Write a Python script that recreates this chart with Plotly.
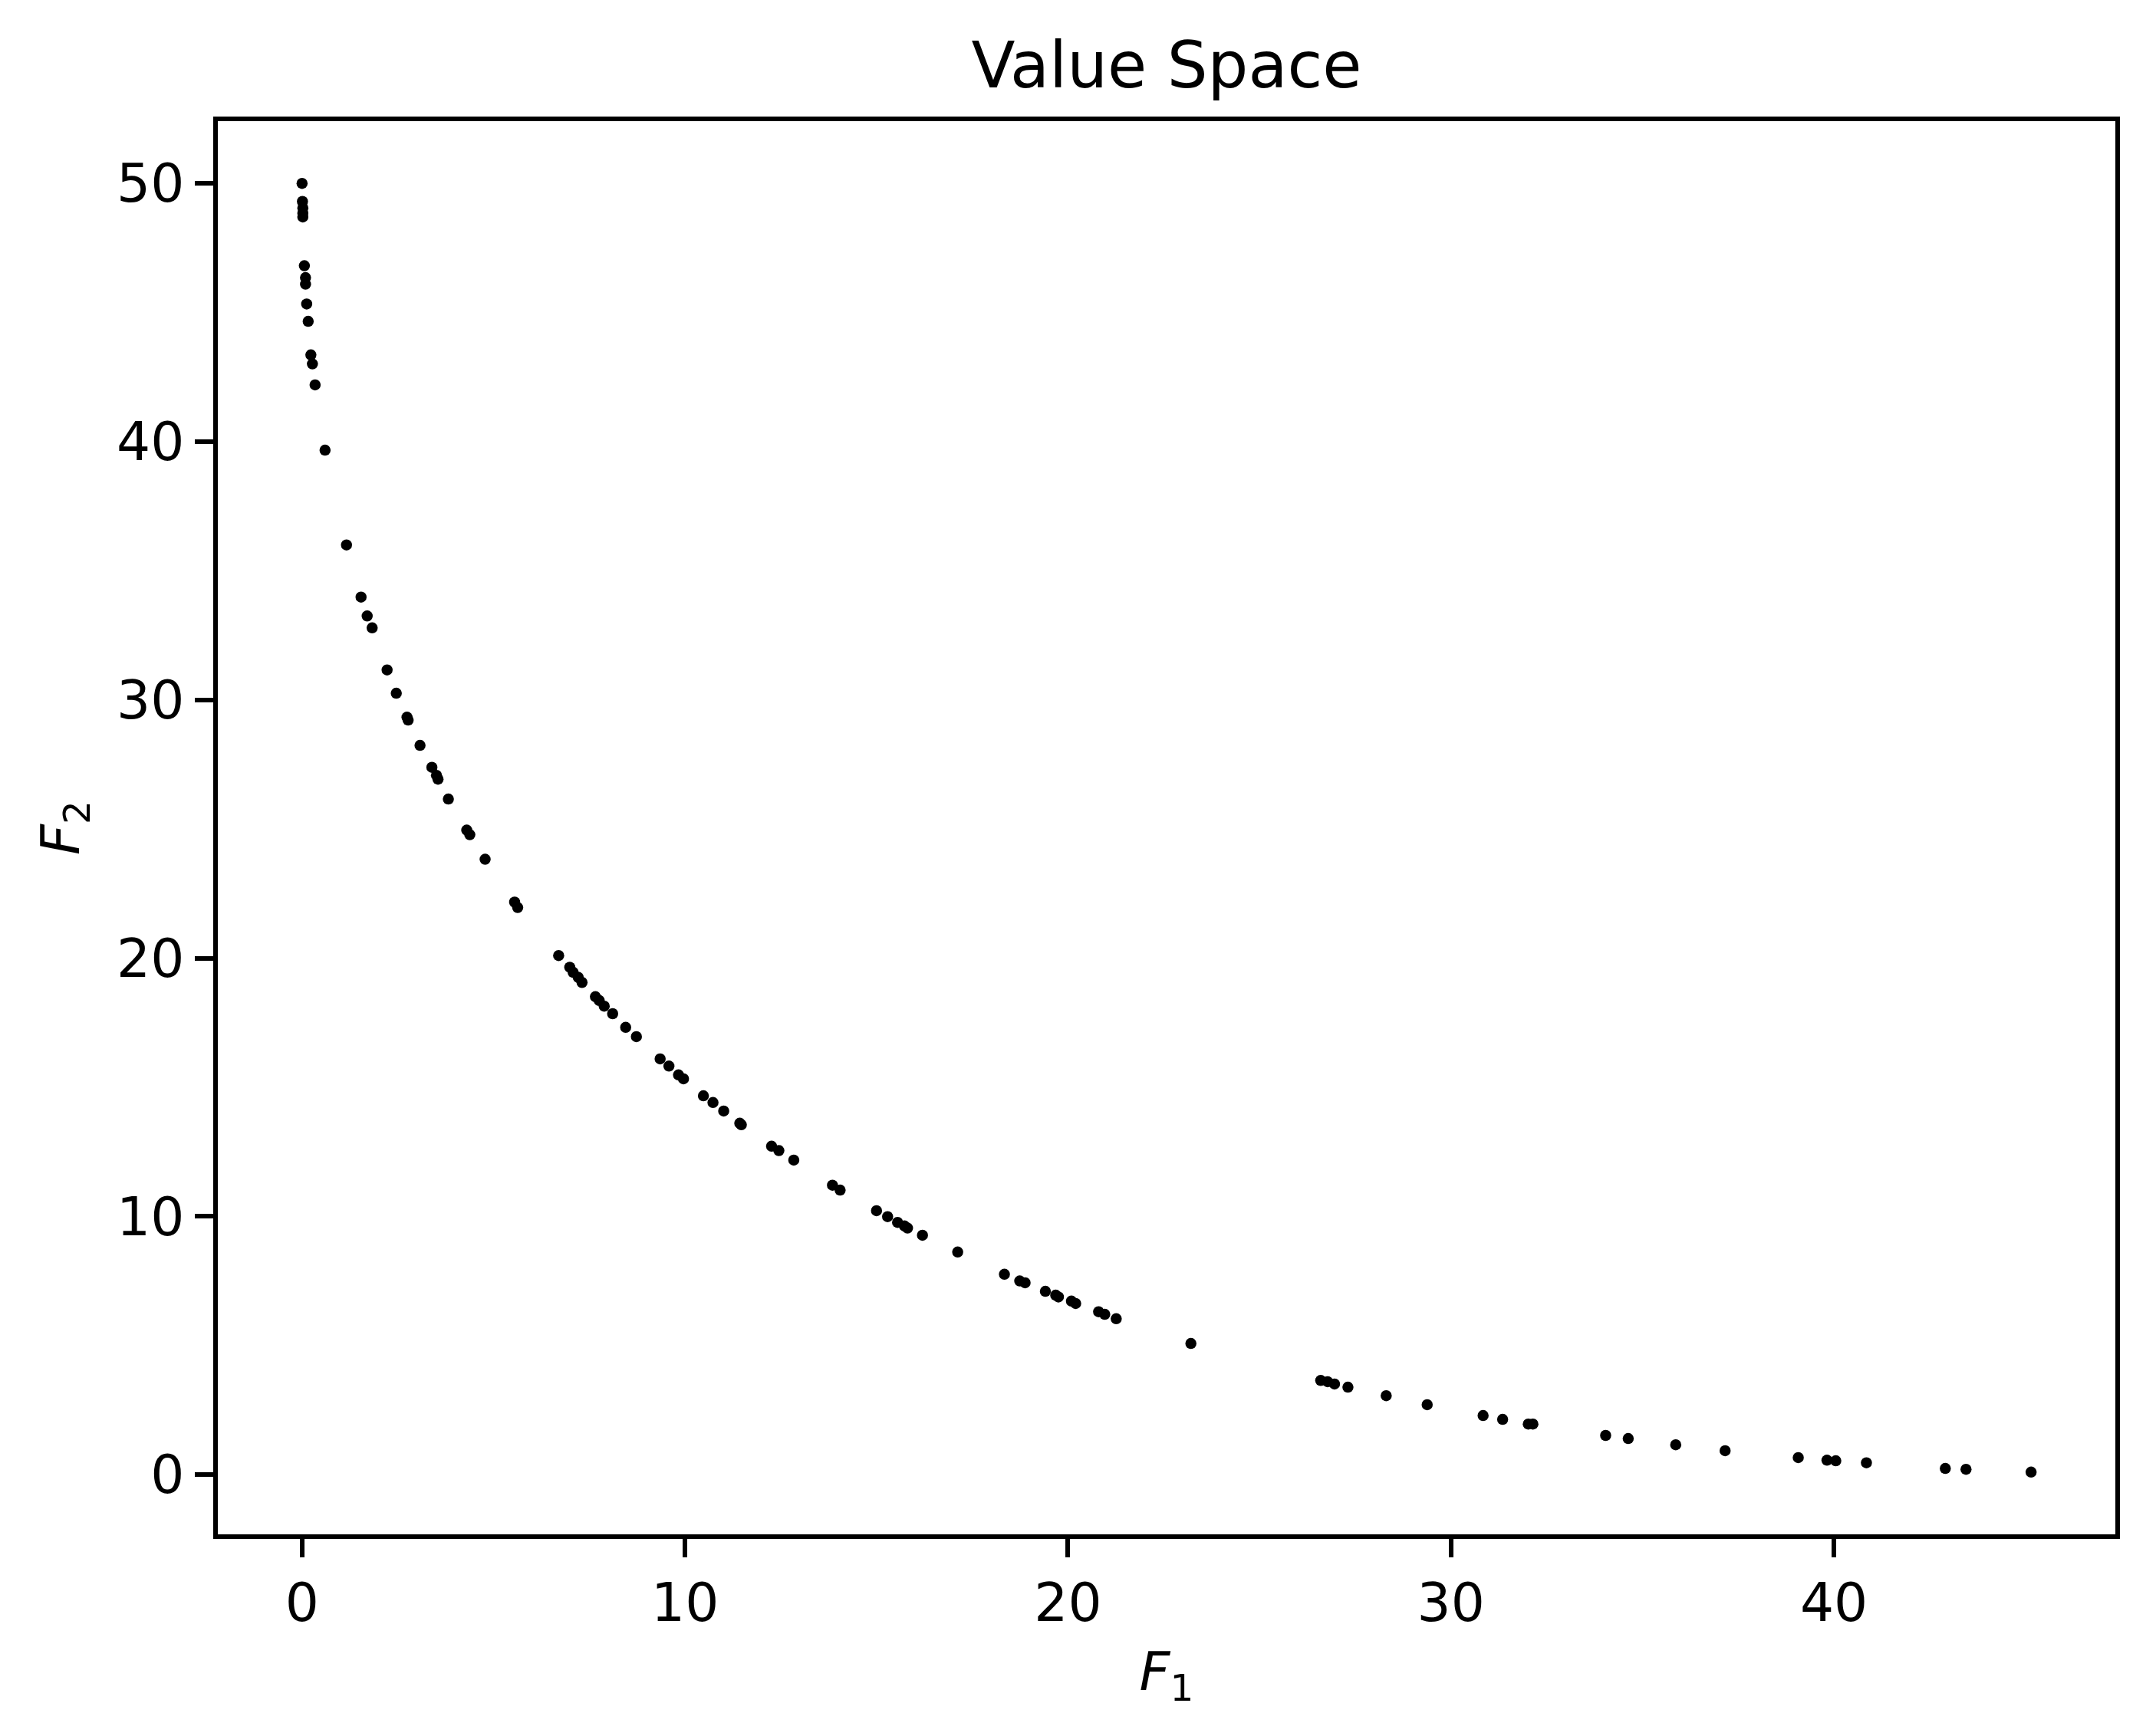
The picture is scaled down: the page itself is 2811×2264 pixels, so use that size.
import plotly.graph_objects as go

# Data
f1 = [0.00, 0.01, 0.02, 0.02, 0.02, 0.06, 0.09, 0.09, 0.12, 0.16, 0.23, 0.27, 0.34, 0.60,
      1.16, 1.54, 1.70, 1.83, 2.22, 2.46, 2.74, 2.77, 3.08, 3.39, 3.51, 3.55, 3.82, 4.30,
      4.38, 4.78, 5.55, 5.63, 6.70, 6.99, 7.08, 7.21, 7.31, 7.66, 7.76, 7.89, 8.11, 8.45,
      8.73, 9.35, 9.58, 9.83, 9.96, 10.48, 10.73, 11.01, 11.43, 11.47, 12.26, 12.45, 12.84,
      13.85, 14.05, 15.00, 15.29, 15.55, 15.73, 15.81, 16.20, 17.12, 18.34, 18.74, 18.88,
      19.41, 19.68, 19.75, 20.09, 20.20, 20.80, 20.96, 21.26, 23.21, 26.60, 26.78, 26.96,
      27.31, 28.31, 29.38, 30.84, 31.35, 32.02, 32.14, 34.04, 34.63, 35.87, 37.16, 39.07,
      39.82, 40.05, 40.85, 42.91, 43.45, 45.15]
f2 = [50.0, 49.3, 49.05, 48.85, 48.7, 46.81, 46.35, 46.1, 45.33, 44.66, 43.36, 43.01, 42.2, 39.67,
      36.0, 33.98, 33.25, 32.79, 31.16, 30.26, 29.33, 29.22, 28.24, 27.39, 27.08, 26.93, 26.16, 24.96,
      24.78, 23.83, 22.17, 21.96, 20.10, 19.65, 19.45, 19.26, 19.06, 18.51, 18.36, 18.14, 17.85, 17.32,
      16.96, 16.10, 15.82, 15.48, 15.33, 14.67, 14.41, 14.08, 13.61, 13.55, 12.72, 12.55, 12.18,
      11.21, 11.02, 10.22, 9.99, 9.77, 9.63, 9.55, 9.27, 8.62, 7.76, 7.50, 7.43,
      7.10, 6.95, 6.88, 6.72, 6.63, 6.31, 6.21, 6.04, 5.08, 3.65, 3.60, 3.51,
      3.39, 3.06, 2.71, 2.29, 2.14, 1.96, 1.96, 1.52, 1.40, 1.16, 0.93, 0.66,
      0.56, 0.54, 0.46, 0.24, 0.21, 0.10]

x_ticks = [0, 10, 20, 30, 40]
y_ticks = [0, 10, 20, 30, 40, 50]

FONT = "DejaVu Sans"
PAGE_PAD = 8  # default body margin of the html page
W, H = 2811 - 2 * PAGE_PAD, 2264 - 2 * PAGE_PAD
LW = 5.6

# target inner plot-area edges in page pixels
PL, PR, PT, PB = 284.3, 2758.2, 158.3, 2000.7

fig = go.Figure()
fig.add_trace(go.Scatter(
    x=f1, y=f2, mode="markers",
    marker=dict(color="black", size=14.5, line=dict(width=0)),
    showlegend=False,
))

axis_common = dict(
    showline=True, linecolor="black", linewidth=LW, mirror=True,
    ticks="outside", ticklen=24, tickwidth=LW, tickcolor="black",
    showgrid=False, zeroline=False,
    tickfont=dict(family=FONT, size=69.4, color="black"),
)

fig.update_layout(
    width=W, height=H,
    paper_bgcolor="white", plot_bgcolor="white",
    margin=dict(l=PL - PAGE_PAD, r=PAGE_PAD + W - PR,
                t=PT - PAGE_PAD, b=PAGE_PAD + H - PB, autoexpand=False),
    title=dict(text="Value Space", x=0.5, xref="paper", xanchor="center",
               y=1 - (114 - PAGE_PAD) / H, yref="container", yanchor="bottom",
               font=dict(family=FONT, size=83.3, color="black")),
    xaxis=dict(range=[-2.20, 47.35], tickvals=x_ticks, ticktext=[str(v) for v in x_ticks],
               title=dict(text="<i>F</i><sub>1</sub>", standoff=28,
                          font=dict(family=FONT, size=69.4, color="black")),
               **axis_common),
    yaxis=dict(range=[-2.31, 52.41], tickvals=y_ticks, ticktext=[str(v) for v in y_ticks],
               title=dict(text="<i>F</i><sub>2</sub>", standoff=28,
                          font=dict(family=FONT, size=69.4, color="black")),
               **axis_common),
)

fig.write_html("out.html")
